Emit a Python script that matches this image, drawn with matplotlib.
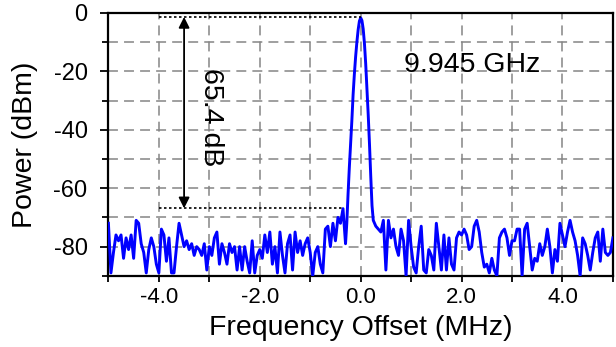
import numpy as np
import matplotlib
matplotlib.use("Agg")
import matplotlib.pyplot as plt
from matplotlib.ticker import FixedLocator, FormatStrFormatter

plt.rcParams['font.family'] = ['Liberation Sans', 'DejaVu Sans']

# noise floor left of the carrier, -5.00 ... -0.30 MHz (uniform steps)
noise_left = [
    -72, -89, -82, -76, -78, -76, -84, -77, -81, -76,
    -84, -71, -72, -79, -82, -89, -81, -77, -80, -86,
    -89, -74, -76, -85, -77, -89, -89, -80, -72, -76,
    -80, -78, -81, -79, -83, -80, -81, -83, -79, -88,
    -80, -83, -77, -75, -86, -79, -82, -86, -79, -82,
    -80, -88, -80, -88, -80, -85, -89, -78, -89, -83,
    -81, -84, -76, -82, -75, -86, -80, -89, -75, -83,
    -89, -79, -76, -88, -75, -82, -78, -83, -79, -77,
    -82, -90, -82, -80, -86, -89, -74, -73, -80, -72,
    -78, -70, -72, -67, -79,
]

# carrier peak
peak_freq = [-0.275, -0.25, -0.225, -0.2, -0.175, -0.15, -0.125, -0.1, -0.075,
             -0.05, -0.025, 0.0, 0.025, 0.05, 0.075, 0.1, 0.125, 0.15, 0.175,
             0.2, 0.225]
peak_power = [-72, -62, -53, -45, -37, -28, -21, -15, -10,
              -5.8, -2.8, -1.7, -2.6, -5.5, -10.5, -17.5, -26, -35, -45,
              -56, -66]

# noise floor right of the carrier, 0.25 ... 5.00 MHz (uniform steps)
noise_right = [
    -71, -73, -74, -75, -71, -88, -71, -77, -74, -80,
    -83, -74, -78, -90, -71, -80, -87, -89, -80, -73,
    -88, -89, -81, -83, -88, -72, -80, -88, -76, -88,
    -77, -86, -88, -77, -75, -76, -74, -76, -81, -80,
    -73, -71, -75, -82, -87,
    -86, -89, -84, -88, -90, -77, -75, -74, -77, -83,
    -78, -78, -74, -74, -90, -74, -72, -80, -88, -84,
    -85, -79, -83, -80, -74, -80, -89, -81, -85, -72,
    -76, -80, -75, -71, -75, -78, -83, -90, -77, -79,
    -83, -88, -82, -77, -75, -85, -74, -82, -83, -82,
    -77,
]

x_ticks = [-4.0, -2.0, 0.0, 2.0, 4.0]
y_ticks = [0, -20, -40, -60, -80]

peak_level = -1.4
side_level = -66.9
span_label = "65.4 dB"
carrier_label = "9.945 GHz"

freq = np.concatenate([np.linspace(-5.0, -0.30, len(noise_left)),
                       peak_freq,
                       np.linspace(0.25, 5.0, len(noise_right))])
power = np.concatenate([noise_left, peak_power, noise_right])

fig = plt.figure(figsize=(6.16, 3.47), dpi=100)
ax = fig.add_axes([0.176, 0.205, 0.819, 0.758])

ax.plot(freq, power, color='#0000ff', lw=2.1, zorder=3)

ax.set_xlim(-5, 5)
ax.set_ylim(-90, 0)
ax.xaxis.set_major_locator(FixedLocator(x_ticks))
ax.xaxis.set_minor_locator(FixedLocator([-5, -3, -1, 1, 3, 5]))
ax.yaxis.set_major_locator(FixedLocator(y_ticks))
ax.yaxis.set_minor_locator(FixedLocator([-10, -30, -50, -70, -90]))
ax.xaxis.set_major_formatter(FormatStrFormatter('%.1f'))
ax.yaxis.set_major_formatter(FormatStrFormatter('%d'))
ax.tick_params(which='both', direction='out', width=1.3)
ax.tick_params(axis='x', which='both', length=4, labelsize=16, pad=4)
ax.tick_params(axis='y', which='major', length=6, labelsize=17, pad=9)
ax.tick_params(axis='y', which='minor', length=4)

ax.grid(True, which='both', color='#858585', ls=(0, (6.5, 4)), lw=1.1, zorder=0)
for s in ax.spines.values():
    s.set_linewidth(1.6)

ax.set_xlabel('Frequency Offset (MHz)', fontsize=20.5, labelpad=5)
ax.set_ylabel('Power (dBm)', fontsize=20.5, labelpad=11)

# dotted reference levels
ax.plot([-4.0, 0.0], [peak_level, peak_level], color='black', ls=(0, (1.5, 1.5)), lw=1.2, zorder=4)
ax.plot([-4.0, -0.35], [side_level, side_level], color='black', ls=(0, (1.5, 1.5)), lw=1.2, zorder=4)
ax.annotate('', xy=(-3.5, peak_level), xytext=(-3.5, side_level),
            arrowprops=dict(arrowstyle='<|-|>', color='black', lw=1.3,
                            mutation_scale=16, shrinkA=0, shrinkB=0), zorder=5)
ax.text(-2.97, -35.7, span_label, rotation=-90, fontsize=20.5,
        ha='center', va='center')
ax.text(0.85, -20.2, carrier_label, fontsize=20.5, ha='left', va='baseline')

fig.savefig('out.png', dpi=100)
